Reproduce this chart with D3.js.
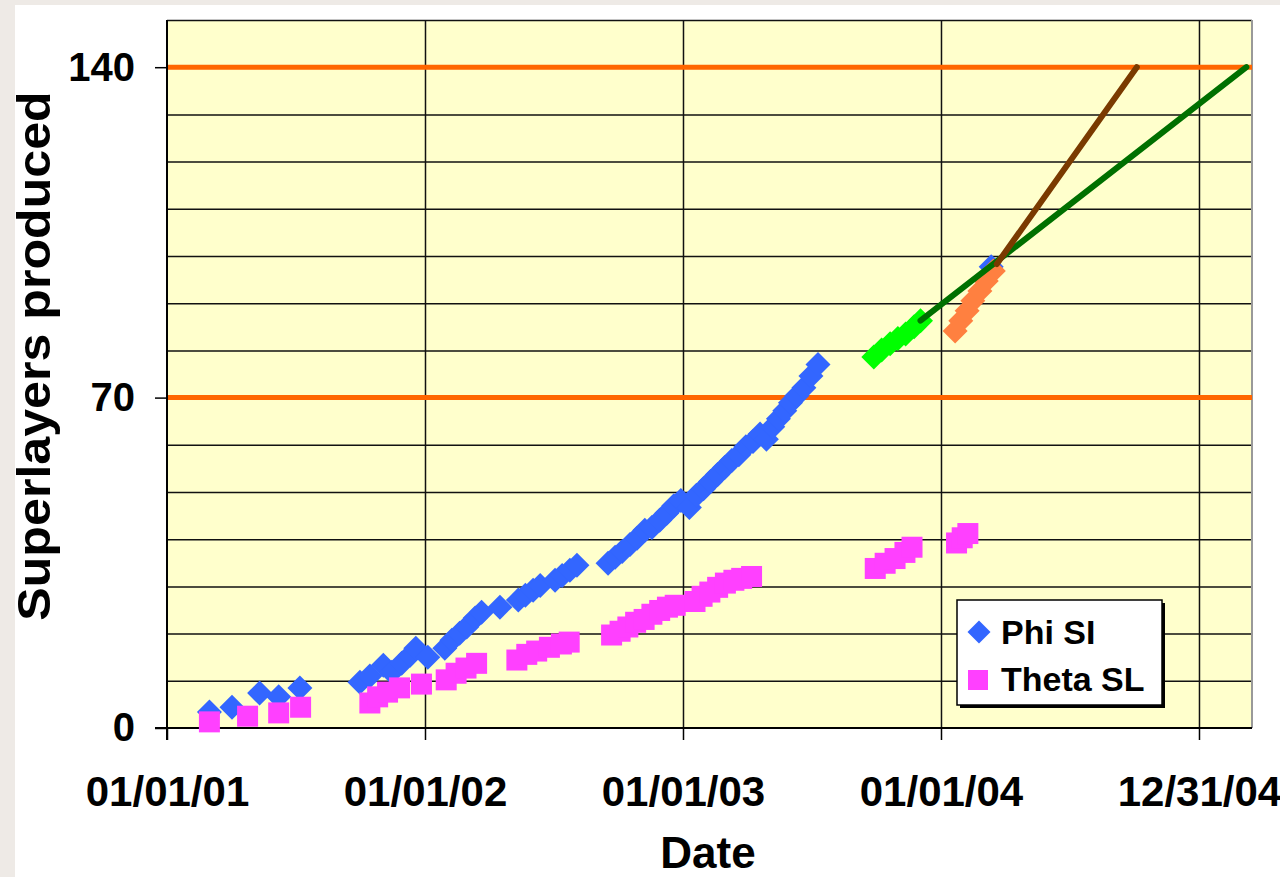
<!DOCTYPE html>
<html>
<head>
<meta charset="utf-8">
<script src="https://cdn.jsdelivr.net/npm/d3@7"></script>
<style>
  html, body { margin: 0; padding: 0; background: #eeeae6; }
  svg { display: block; }
  text { font-family: "Liberation Sans", Arial, sans-serif; font-weight: bold; fill: #000; }
</style>
</head>
<body>
<div id="chart"></div>
<script>
// Superlayer production vs date

const phiSL = [
    ["2001-03-02", 3.4], ["2001-04-03", 4.4], ["2001-05-12", 7.4], ["2001-06-08", 6.6], ["2001-07-08", 8.5],
    ["2001-10-01", 9.7], ["2001-10-15", 11.0], ["2001-11-03", 13.3], ["2001-11-15", 11.8], ["2001-11-29", 13.7],
    ["2001-12-11", 15.4], ["2001-12-19", 16.9], ["2002-01-05", 15.0],
    ["2002-01-29", 16.9], ["2002-02-08", 18.6], ["2002-02-19", 20.1], ["2002-03-01", 21.4], ["2002-03-13", 23.3],
    ["2002-03-22", 24.5], ["2002-04-17", 25.6], ["2002-05-13", 27.1], ["2002-05-23", 28.1], ["2002-06-03", 29.2],
    ["2002-06-13", 30.2], ["2002-07-04", 31.3], ["2002-07-14", 32.3], ["2002-07-25", 33.4], ["2002-08-04", 34.5],
    ["2002-09-17", 34.9], ["2002-09-27", 36.2], ["2002-10-07", 37.4], ["2002-10-18", 38.9], ["2002-10-28", 40.2],
    ["2002-11-08", 41.9], ["2002-11-18", 42.5], ["2002-11-29", 44.0], ["2002-12-09", 45.5], ["2002-12-19", 47.1],
    ["2002-12-29", 48.2], ["2003-01-10", 46.7], ["2003-01-20", 49.3], ["2003-01-30", 50.7], ["2003-02-09", 52.2],
    ["2003-02-19", 53.7], ["2003-03-01", 55.2], ["2003-03-11", 56.7], ["2003-03-21", 57.9], ["2003-03-31", 59.6],
    ["2003-04-10", 60.7], ["2003-04-20", 62.3], ["2003-04-29", 61.2], ["2003-05-08", 63.8], ["2003-05-16", 65.5],
    ["2003-05-25", 67.2], ["2003-06-02", 68.9], ["2003-06-11", 70.4], ["2003-06-21", 72.1], ["2003-07-01", 74.6],
    ["2003-07-11", 77.0], ["2004-03-12", 97.7]
];

const thetaSL = [
    ["2001-03-02", 1.3], ["2001-04-25", 2.5], ["2001-06-08", 3.2], ["2001-07-09", 4.4],
    ["2001-10-15", 5.3], ["2001-10-26", 6.6], ["2001-11-09", 7.6], ["2001-11-26", 8.5], ["2001-12-27", 9.3],
    ["2002-01-31", 10.2], ["2002-02-14", 11.6], ["2002-02-28", 12.7], ["2002-03-15", 13.7],
    ["2002-05-11", 14.4], ["2002-05-25", 15.6], ["2002-06-08", 16.3], ["2002-06-26", 17.1], ["2002-07-13", 17.8],
    ["2002-07-24", 18.2],
    ["2002-09-22", 19.7], ["2002-10-04", 20.5], ["2002-10-15", 21.4], ["2002-10-26", 22.4], ["2002-11-07", 23.0],
    ["2002-11-18", 24.1], ["2002-11-29", 24.9], ["2002-12-10", 25.6], ["2002-12-21", 26.0],
    ["2003-01-18", 26.8], ["2003-01-28", 27.9], ["2003-02-08", 28.8], ["2003-02-19", 29.8], ["2003-03-02", 30.7],
    ["2003-03-14", 31.3], ["2003-03-25", 31.7], ["2003-04-08", 32.1],
    ["2003-09-30", 33.8], ["2003-10-14", 34.9], ["2003-10-28", 35.9], ["2003-11-11", 37.2], ["2003-11-21", 38.3],
    ["2004-01-23", 39.2], ["2004-01-31", 40.3], ["2004-02-08", 41.2]
];

// Phi SL points drawn in their own colours at the end of the record
const phiLate2003 = [
    ["2003-09-28", 78.6], ["2003-10-09", 80.1], ["2003-10-21", 81.4], ["2003-11-01", 82.5],
    ["2003-11-12", 83.5], ["2003-11-24", 85.0], ["2003-12-03", 86.3]
];
const phiEarly2004 = [
    ["2004-01-21", 84.1], ["2004-01-29", 86.3], ["2004-02-07", 88.4], ["2004-02-15", 90.5],
    ["2004-02-25", 92.6], ["2004-03-05", 94.7], ["2004-03-15", 96.8]
];

// Projection lines up to the 140 target
const projectionSlow = [["2003-12-03", 86.3], ["2005-03-08", 140]];
const projectionFast = [["2004-03-20", 98.3], ["2004-10-04", 140]];

const targetLines = [70, 140];
const yTickValues = [0, 70, 140];
const xTickDates = ["2001-01-01", "2002-01-01", "2003-01-01", "2004-01-01", "2004-12-31"];
const xTickLabels = ["01/01/01", "01/01/02", "01/01/03", "01/01/04", "12/31/04"];
const legendItems = ["Phi SI", "Theta SL"];

const parse = d3.utcParse('%Y-%m-%d');

const W = 1280, H = 877;
const plot = { left: 167, right: 1252, top: 20, bottom: 728 };
const markR = 12.5;   // diamond half-diagonal
const sq = 21;        // square side

const svg = d3.select('#chart').append('svg')
    .attr('width', W)
    .attr('height', H);

// white page area, with the greyish strip on the left/top
svg.append('rect')
    .attr('x', 15).attr('y', 5)
    .attr('width', W - 15).attr('height', H - 5)
    .attr('fill', '#fff');

const x = d3.scaleUtc()
    .domain([parse('2001-01-01'), parse('2005-03-16')])
    .range([plot.left, plot.right]);

const y = d3.scaleLinear()
    .domain([0, 150])
    .range([plot.bottom, plot.top]);

// plot background
svg.append('rect')
    .attr('x', plot.left).attr('y', plot.top)
    .attr('width', plot.right - plot.left).attr('height', plot.bottom - plot.top)
    .attr('fill', '#ffffcc');

// horizontal gridlines every 10
svg.append('g')
    .attr('class', 'grid-y')
    .attr('transform', `translate(${plot.left},0)`)
    .call(d3.axisLeft(y).tickValues(d3.range(10, 151, 10)).tickSize(-(plot.right - plot.left)).tickFormat(''))
    .call(g => g.select('.domain').remove())
    .call(g => g.selectAll('line').attr('stroke', '#111').attr('stroke-width', 1.5));

// vertical gridlines at major dates
svg.append('g')
    .attr('class', 'grid-x')
    .attr('transform', `translate(0,${plot.bottom})`)
    .call(d3.axisBottom(x).tickValues(xTickDates.slice(1).map(parse)).tickSize(-(plot.bottom - plot.top)).tickFormat(''))
    .call(g => g.select('.domain').remove())
    .call(g => g.selectAll('line').attr('stroke', '#111').attr('stroke-width', 1.5));

// right edge of plot
svg.append('line')
    .attr('x1', plot.right).attr('x2', plot.right)
    .attr('y1', plot.top).attr('y2', plot.bottom)
    .attr('stroke', '#999').attr('stroke-width', 2);

// orange target lines
svg.append('g').selectAll('line')
    .data(targetLines)
    .enter()
    .append('line')
    .attr('x1', plot.left).attr('x2', plot.right)
    .attr('y1', d => y(d)).attr('y2', d => y(d))
    .attr('stroke', '#ff6600')
    .attr('stroke-width', 5);

// axes
const xAxis = svg.append('g')
    .attr('transform', `translate(0,${plot.bottom})`)
    .call(d3.axisBottom(x)
        .tickValues(xTickDates.map(parse))
        .tickSize(12)
        .tickPadding(36)
        .tickFormat((d, i) => xTickLabels[i]));
xAxis.select('.domain').attr('d', `M${plot.left - 12},0H${plot.right}`).attr('stroke', '#000').attr('stroke-width', 2);
xAxis.selectAll('line').attr('stroke', '#000').attr('stroke-width', 1.5);
xAxis.selectAll('text')
    .style('font-size', '42px')
    .style('font-family', '"Liberation Sans", Arial, sans-serif')
    .style('font-weight', 'bold')
    .attr('fill', '#000');

const yAxis = svg.append('g')
    .attr('transform', `translate(${plot.left},0)`)
    .call(d3.axisLeft(y)
        .tickValues(yTickValues)
        .tickSize(12)
        .tickPadding(20));
yAxis.select('.domain').attr('d', `M0,${plot.top}V${plot.bottom + 12}`).attr('stroke', '#000').attr('stroke-width', 2);
yAxis.selectAll('line').attr('stroke', '#000').attr('stroke-width', 1.5);
yAxis.selectAll('text')
    .style('font-size', '40px')
    .style('font-family', '"Liberation Sans", Arial, sans-serif')
    .style('font-weight', 'bold')
    .attr('fill', '#000');

// axis titles
svg.append('text')
    .attr('x', 708)
    .attr('y', 868)
    .attr('text-anchor', 'middle')
    .style('font-size', '44px')
    .text('Date');

// the source text is a bit stretched along its length
svg.append('text')
    .attr('transform', 'translate(50,356) rotate(-90) scale(1.09,1)')
    .attr('text-anchor', 'middle')
    .style('font-size', '46px')
    .text('Superlayers produced');

// markers
const diamond = r => `M0,${-r}L${r},0L0,${r}L${-r},0Z`;
const marks = svg.append('g').attr('class', 'marks');

function drawDiamonds(data, color) {
    marks.append('g').selectAll('path')
        .data(data)
        .enter()
        .append('path')
        .attr('d', diamond(markR))
        .attr('transform', d => `translate(${x(parse(d[0]))},${y(d[1])})`)
        .attr('fill', color);
}

drawDiamonds(phiSL, '#3366ff');

marks.append('g').selectAll('rect')
    .data(thetaSL)
    .enter()
    .append('rect')
    .attr('x', d => x(parse(d[0])) - sq / 2)
    .attr('y', d => y(d[1]) - sq / 2)
    .attr('width', sq)
    .attr('height', sq)
    .attr('fill', '#ff40ff');

drawDiamonds(phiLate2003, '#00ff00');
drawDiamonds(phiEarly2004, '#ff8040');

// projections
const line = d3.line()
    .x(d => x(parse(d[0])))
    .y(d => y(d[1]));

svg.append('path')
    .datum(projectionSlow)
    .attr('d', line)
    .attr('fill', 'none')
    .attr('stroke', '#007000')
    .attr('stroke-width', 6)
    .attr('stroke-linecap', 'round');

svg.append('path')
    .datum(projectionFast)
    .attr('d', line)
    .attr('fill', 'none')
    .attr('stroke', '#7a3a00')
    .attr('stroke-width', 6)
    .attr('stroke-linecap', 'round');

// legend
const legend = svg.append('g').attr('transform', 'translate(957,600)');
legend.append('rect')
    .attr('x', 3).attr('y', 3)
    .attr('width', 205).attr('height', 105)
    .attr('fill', '#000');
legend.append('rect')
    .attr('width', 205).attr('height', 105)
    .attr('fill', '#fff')
    .attr('stroke', '#000')
    .attr('stroke-width', 1.5);

legend.append('path')
    .attr('d', diamond(11.5))
    .attr('transform', 'translate(22,32)')
    .attr('fill', '#3366ff');
legend.append('rect')
    .attr('x', 11).attr('y', 70)
    .attr('width', 20).attr('height', 20)
    .attr('fill', '#ff40ff');

legend.selectAll('text')
    .data(legendItems)
    .enter()
    .append('text')
    .attr('x', 44)
    .attr('y', (d, i) => 44 + i * 47)
    .style('font-size', '34px')
    .text(d => d);
</script>
</body>
</html>
